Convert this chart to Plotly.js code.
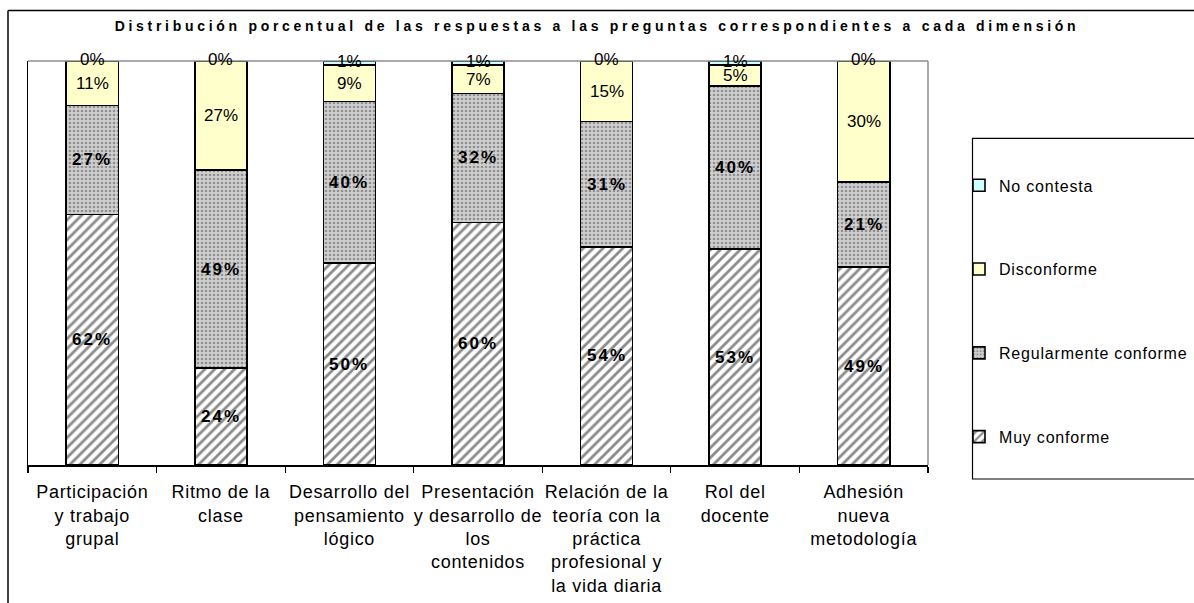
<!DOCTYPE html>
<html>
<head>
<meta charset="utf-8">
<script src="https://cdn.plot.ly/plotly-3.0.1.min.js"></script>
<style>
  html, body { margin: 0; padding: 0; background: #fff; }
  #chart { width: 1194px; height: 603px; }
  .gtitle { letter-spacing: 3.7px; }
  .xtick text { letter-spacing: 0.7px; }
  .legendtext { letter-spacing: 0.8px; }
</style>
</head>
<body>
<div id="chart"></div>
<script>
// ---- Data ----
const categories = [
  "Participación<br>y trabajo<br>grupal",
  "Ritmo de la<br>clase",
  "Desarrollo del<br>pensamiento<br>lógico",
  "Presentación<br>y desarrollo de<br>los<br>contenidos",
  "Relación de la<br>teoría con la<br>práctica<br>profesional y<br>la vida diaria",
  "Rol del<br>docente",
  "Adhesión<br>nueva<br>metodología"
];
const muyConforme  = [62, 24, 50, 60, 54, 53.4, 49];
const regularmente = [27, 49, 40, 32, 31, 40.4, 21];
const disconforme  = [11, 27, 9, 7, 15, 5.2, 30];
const noContesta   = [0, 0, 1, 1, 0, 1, 0];
const seriesNames = ["Muy conforme", "Regularmente conforme", "Disconforme", "No contesta"];
const chartTitle = "Distribución porcentual de las respuestas a las preguntas correspondientes a cada dimensión";

// ---- Styles ----
const FONT = "Liberation Sans, Arial, sans-serif";
const outline = { color: "#000000", width: 1.6 };
const styles = [
  { color: "#ffffff", pattern: { shape: "/", fgcolor: "#8c8c8c", bgcolor: "#ffffff", size: 7, solidity: 0.4, fillmode: "replace" } },
  { color: "#c4c4c4", pattern: { shape: ".", fgcolor: "#8f8f8f", bgcolor: "#d0d0d0", size: 4, solidity: 0.35, fillmode: "replace" } },
  { color: "#ffffcc" },
  { color: "#ccffff" }
];
const allSeries = [muyConforme, regularmente, disconforme, noContesta];

const traces = allSeries.map((vals, s) => {
  const m = { color: styles[s].color, line: outline };
  if (styles[s].pattern) m.pattern = styles[s].pattern;
  return {
    type: "bar",
    name: seriesNames[s],
    x: categories,
    y: vals,
    marker: m,
    legendgroup: "g" + s,
    legendrank: 10 - s,
    hoverinfo: "skip"
  };
});

// data labels placed at the middle of each segment (data coordinates)
const annotations = [];
categories.forEach((c, i) => {
  let base = 0;
  allSeries.forEach((vals, s) => {
    const v = vals[i];
    const bold = s < 2;
    const label = Math.round(v) + "%";
    annotations.push({
      x: c, xref: "x",
      y: base + v / 2, yref: "y",
      yshift: s === 3 ? 2 : 0,
      text: bold ? '<span style="letter-spacing:2px">' + label + '</span>' : label,
      showarrow: false,
      font: { family: FONT, size: 17, color: "#000", weight: bold ? "bold" : "normal" }
    });
    base += v;
  });
});

// plot area: left 28, right 928, top 60.5, bottom 465 (px)
const px = v => (v - 28) / 900;
const py = v => (465 - v) / 404.5;

const shapes = [
  // gray top & right border of plot area
  { type: "line", xref: "paper", yref: "paper", x0: 0, x1: 1, y0: 1, y1: 1, line: { color: "#8c8c8c", width: 1.5 } },
  { type: "line", xref: "paper", yref: "paper", x0: 1, x1: 1, y0: 0, y1: 1, line: { color: "#8c8c8c", width: 1.5 } },
  // outer chart border (extends beyond the canvas on right/bottom)
  { type: "line", xref: "paper", yref: "paper", x0: px(8), x1: px(1210), y0: py(10), y1: py(10), line: { color: "#000", width: 1.5 } },
  { type: "line", xref: "paper", yref: "paper", x0: px(8), x1: px(8), y0: py(10), y1: py(620), line: { color: "#000", width: 1.5 } },
  // legend box
  { type: "rect", xref: "paper", yref: "paper", x0: px(972.5), x1: px(1230), y0: py(479), y1: py(138), line: { color: "#000", width: 1.2 }, fillcolor: "rgba(0,0,0,0)" }
];

const layout = {
  width: 1194, height: 603,
  margin: { l: 28, r: 266, t: 60.5, b: 138, autoexpand: false },
  paper_bgcolor: "#ffffff", plot_bgcolor: "#ffffff",
  barmode: "stack",
  bargap: 0.595,
  showlegend: true,
  title: {
    text: "<b>" + chartTitle + "</b>",
    font: { family: FONT, size: 14, color: "#000" },
    x: 0.5, xref: "container", xanchor: "center",
    y: 1 - 26 / 603, yref: "container", yanchor: "middle"
  },
  xaxis: {
    type: "category",
    showline: true, linecolor: "#000", linewidth: 1.5,
    ticks: "outside", tickson: "boundaries", ticklen: 6, tickcolor: "#000", tickwidth: 1.2,
    tickfont: { family: FONT, size: 18, color: "#000" },
    ticklabelstandoff: 10,
    showgrid: false, zeroline: false, automargin: false,
    fixedrange: true
  },
  yaxis: {
    range: [0, 100],
    showline: true, linecolor: "#000", linewidth: 1.5,
    showticklabels: false, ticks: "",
    showgrid: false, zeroline: false, fixedrange: true
  },
  legend: {
    traceorder: "grouped",
    x: px(959), xanchor: "left",
    y: py(168), yanchor: "top",
    bgcolor: "rgba(0,0,0,0)", borderwidth: 0,
    font: { family: FONT, size: 16, color: "#000" },
    tracegroupgap: 60,
    itemclick: false, itemdoubleclick: false
  },
  annotations: annotations,
  shapes: shapes
};

Plotly.newPlot("chart", traces, layout, { displayModeBar: false, staticPlot: true });
</script>
</body>
</html>
